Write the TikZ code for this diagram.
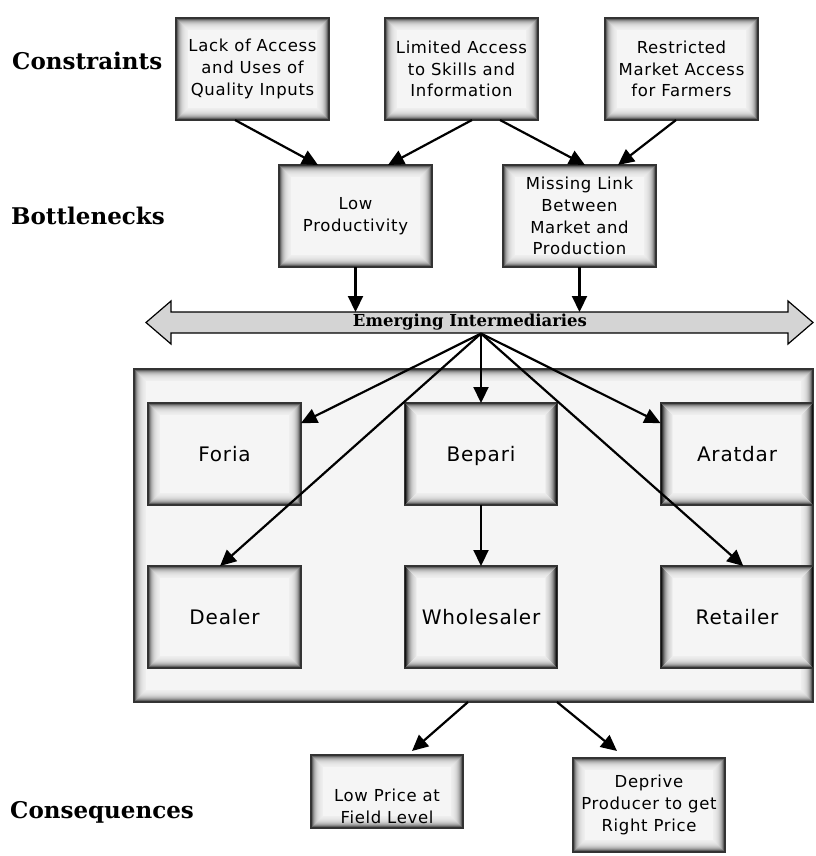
\documentclass[tikz,border=0pt]{standalone}
\usepackage{fontspec}
\newfontfamily\boxfont{DejaVu Sans}[LetterSpace=4]
\newfontfamily\headfont{DejaVu Serif}
\usetikzlibrary{arrows.meta}
\definecolor{boxfill}{HTML}{F5F5F5}
\definecolor{barfill}{HTML}{D4D4D4}
\tikzset{
  glow/.style={draw=black!80, line width=1.6pt, fill=boxfill,
    path picture={
      \foreach \i in {1,...,12}{
        \pgfmathsetmacro\op{0.8*exp(-(\i-1)/3.3)}
        \draw[black, opacity=\op, line width=1.05pt]
          ([xshift=\i pt-0.5pt, yshift=-\i pt+0.5pt]path picture bounding box.north west)
          rectangle
          ([xshift=-\i pt+0.5pt, yshift=\i pt-0.5pt]path picture bounding box.south east);
      }}},
  tbox/.style={glow, minimum width=153pt, minimum height=102pt, inner sep=0pt,
    outer sep=0pt, align=center, font=\boxfont\fontsize{16.5}{21.7}\selectfont},
  midbox/.style={tbox, text height=16pt, text depth=1.4pt, font=\boxfont\fontsize{20}{24}\selectfont},
  txt/.style={align=center, inner sep=0pt, font=\boxfont\fontsize{16.5}{21.7}\selectfont},
  link/.style={line width=2.2pt, -{Triangle[length=16pt,width=15pt]}},
  stage/.style={anchor=base west, inner sep=0pt, font=\headfont\bfseries\fontsize{23}{28}\selectfont}
}
\begin{document}
\begin{tikzpicture}[x=1pt,y=-1pt]
\useasboundingbox (0,0) rectangle (815,856);

% stage labels
\node[stage] (lconstr) at (12,70) {Constraints};
\node[stage] (lbottle) at (11,224) {Bottlenecks};
\node[stage] (lconseq) at (10,818) {Consequences};

% constraints
\node[tbox] (lack) at (252.5,69) {Lack of Access\\and Uses of\\Quality Inputs};
\node[tbox] (limited) at (461.5,69) {Limited Access\\to Skills and\\Information};
\node[tbox] (restricted) at (681.5,69) {Restricted\\Market Access\\for Farmers};

% bottlenecks
\node[tbox] (lowprod) at (355.5,216) {Low\\Productivity};
\node[tbox] (missing) at (579.5,216) {Missing Link\\Between\\Market and\\Production};

% double-headed band
\draw[fill=barfill, line width=1.2pt, line join=miter]
  (146,322.5) -- (171,301) -- (171,312) -- (788,312) -- (788,301) -- (813,322.5)
  -- (788,344) -- (788,333) -- (171,333) -- (171,344) -- cycle;
\node[minimum width=617pt, minimum height=21pt, inner sep=0pt, outer sep=0pt,
  font=\headfont\bfseries\fontsize{16.5}{18}\selectfont] (bar) at (470,322.5) {Emerging Intermediaries};
\coordinate (hub) at (481,333.5);

% intermediaries
\node[glow, minimum width=679pt, minimum height=333pt, outer sep=0pt] (market) at (473.5,535.5) {};
\node[midbox] (foria) at (224.5,454) {Foria};
\node[midbox] (bepari) at (481,454) {Bepari};
\node[midbox] (aratdar) at (737,454) {Aratdar};
\node[midbox] (dealer) at (224.5,617) {Dealer};
\node[midbox] (wholesaler) at (481,617) {Wholesaler};
\node[midbox] (retailer) at (737,617) {Retailer};

% consequences
\node[tbox, minimum width=152pt, minimum height=73pt] (lowprice) at (387,791.5) {};
\node[txt] (lowpricetxt) at (387,806) {Low Price at\\Field Level};
\node[tbox, minimum width=152pt, minimum height=94pt] (deprive) at (649,805) {Deprive\\Producer to get\\Right Price};

% connectors
\draw[link] ([xshift=-17.5pt]lack.south) -- ([xshift=-37.5pt]lowprod.north);
\draw[link] ([xshift=10.5pt]limited.south) -- ([xshift=32.5pt]lowprod.north);
\draw[link] ([xshift=38.5pt]limited.south) -- ([xshift=5.5pt]missing.north);
\draw[link] ([xshift=-5.5pt]restricted.south) -- ([xshift=38.5pt]missing.north);
\draw[link] (lowprod.south) -- (lowprod.south |- bar.north);
\draw[link] (missing.south) -- (missing.south |- bar.north);

\draw[link] (hub) -- (foria.22);
\draw[link] (hub) -- (bepari.north);
\draw[link] (hub) -- (aratdar.158.6);
\draw[link] (hub) -- (dealer.95);
\draw[link] (hub) -- (retailer.83.3);
\draw[link] (bepari.south) -- (wholesaler.north);

\draw[link] ([xshift=-5.5pt]market.south) -- ([xshift=25pt,yshift=4pt]lowprice.north);
\draw[link] ([xshift=83.5pt]market.south) -- ([xshift=-32pt,yshift=7pt]deprive.north);
\end{tikzpicture}
\end{document}
